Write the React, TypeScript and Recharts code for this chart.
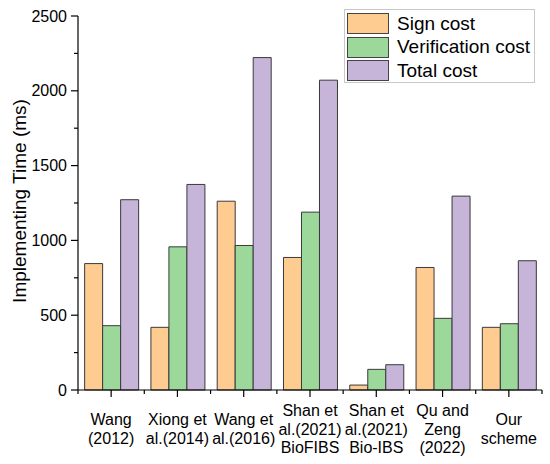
import { Bar, BarChart, XAxis, YAxis } from "recharts";

const categories = [
  "Wang\n(2012)",
  "Xiong et\nal.(2014)",
  "Wang et\nal.(2016)",
  "Shan et\nal.(2021)\nBioFIBS",
  "Shan et\nal.(2021)\nBio-IBS",
  "Qu and\nZeng\n(2022)",
  "Our\nscheme"
];
const signCost = [845, 419, 1262, 886, 33, 819, 419];
const verificationCost = [430, 957, 966, 1189, 138, 479, 443];
const totalCost = [1272, 1374, 2222, 2071, 169, 1296, 864];
const yTicks = [0, 250, 500, 750, 1000, 1250, 1500, 1750, 2000, 2250, 2500];

const seriesNames = ["Sign cost", "Verification cost", "Total cost"];
const seriesColors = ["#FECB91", "#9DD89B", "#C6B4D9"];

const data = categories.map((category, i) => ({
  category,
  sign: signCost[i],
  verification: verificationCost[i],
  total: totalCost[i]
}));

const font = "'Liberation Sans', Arial, sans-serif";
const plotLeft = 78;
const plotRight = 542;
const band = (plotRight - plotLeft) / categories.length;

function YTick(props: any) {
  const { x, y, payload } = props;
  const major = payload.value % 500 === 0;
  return (
    <g>
      <line x1={x} x2={x - (major ? 7 : 4)} y1={y} y2={y} stroke="#000" strokeWidth={1.2} />
      {major && (
        <text x={x - 11} y={y} dy={5.5} textAnchor="end" fontSize={16} fontFamily={font} fill="#000">
          {payload.value}
        </text>
      )}
    </g>
  );
}

function XTick(props: any) {
  const { x, y, payload, index } = props;
  const lines = String(payload.value).split("\n");
  const lineHeight = 18.5;
  const middle = y + 39;
  const first = middle - ((lines.length - 1) * lineHeight) / 2;
  return (
    <g>
      <line x1={x} x2={x} y1={y} y2={y + 7} stroke="#000" strokeWidth={1.2} />
      <line x1={x - band / 2} x2={x - band / 2} y1={y} y2={y + 4} stroke="#000" strokeWidth={1.2} />
      {index === categories.length - 1 && (
        <line x1={x + band / 2} x2={x + band / 2} y1={y} y2={y + 4} stroke="#000" strokeWidth={1.2} />
      )}
      <text textAnchor="middle" fontSize={16} fontFamily={font} fill="#000">
        {lines.map((line, i) => (
          <tspan key={i} x={x} y={first + i * lineHeight} dy={5.5}>
            {line}
          </tspan>
        ))}
      </text>
    </g>
  );
}

function YLabel() {
  return (
    <text
      x={19}
      y={201}
      transform="rotate(-90, 19, 201)"
      textAnchor="middle"
      dy={6.5}
      fontSize={19}
      fontFamily={font}
      fill="#000"
    >
      Implementing Time (ms)
    </text>
  );
}

function LegendBox() {
  return (
    <div
      style={{
        position: "absolute",
        left: 344,
        top: 9,
        width: 191,
        height: 74,
        border: "1px solid #c8c8c8",
        background: "#fff",
        padding: "2px 0 0 2px",
        fontFamily: font,
        fontSize: 19,
        color: "#000",
        boxSizing: "border-box"
      }}
    >
      {seriesNames.map((name, i) => (
        <div key={name} style={{ display: "flex", alignItems: "center", height: 23.5 }}>
          <div
            style={{
              width: 42,
              height: 21,
              background: seriesColors[i],
              border: "1px solid #444",
              boxSizing: "border-box",
              marginRight: 8
            }}
          />
          <span style={{ lineHeight: "20px" }}>{name}</span>
        </div>
      ))}
    </div>
  );
}

export default function App() {
  return (
    <div style={{ position: "absolute", left: 0, top: 0, width: 550, height: 464, background: "#fff" }}>
      <BarChart
        width={550}
        height={464}
        data={data}
        margin={{ top: 16, right: 550 - plotRight, bottom: 0, left: 0 }}
        barCategoryGap="10%"
        barGap={0}
      >
        <XAxis
          dataKey="category"
          interval={0}
          tick={<XTick />}
          tickLine={false}
          tickSize={0}
          tickMargin={0}
          axisLine={{ stroke: "#000", strokeWidth: 1.2 }}
          height={74}
        />
        <YAxis
          width={plotLeft}
          domain={[0, 2500]}
          ticks={yTicks}
          interval={0}
          tick={<YTick />}
          tickLine={false}
          tickSize={0}
          tickMargin={0}
          axisLine={{ stroke: "#000", strokeWidth: 1.2 }}
          label={{ content: <YLabel /> }}
        />
        <Bar dataKey="sign" name={seriesNames[0]} fill={seriesColors[0]} stroke="#3a3a3a" strokeWidth={1} isAnimationActive={false} />
        <Bar dataKey="verification" name={seriesNames[1]} fill={seriesColors[1]} stroke="#3a3a3a" strokeWidth={1} isAnimationActive={false} />
        <Bar dataKey="total" name={seriesNames[2]} fill={seriesColors[2]} stroke="#3a3a3a" strokeWidth={1} isAnimationActive={false} />
      </BarChart>
      <LegendBox />
    </div>
  );
}
